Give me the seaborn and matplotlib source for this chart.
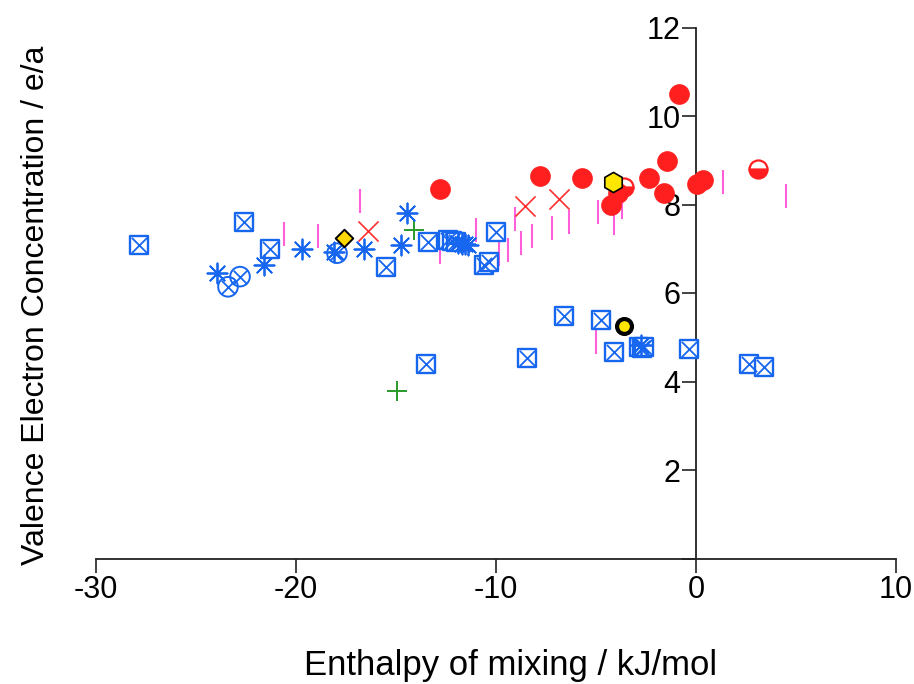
import matplotlib
matplotlib.use("Agg")
import matplotlib.pyplot as plt
import seaborn as sns

# --- data: enthalpy of mixing (kJ/mol) vs valence electron concentration (e/a) ---
square_x = [-27.85, -22.6, -21.3, -15.5, -13.4, -12.4, -12.2, -12.0, -10.6, -10.35, -10.0,
            -13.5, -8.47, -6.6, -4.73, -4.1, -2.85, -2.72, -2.6, -0.35, 2.65, 3.4]
square_y = [7.08, 7.61, 6.99, 6.58, 7.16, 7.2, 7.18, 7.15, 6.63, 6.71, 7.37,
            4.40, 4.54, 5.49, 5.40, 4.66, 4.78, 4.75, 4.77, 4.74, 4.40, 4.32]

asterisk_x = [-23.96, -21.6, -19.7, -18.1, -16.6, -14.75, -14.47, -11.9, -11.7, -11.55, -11.4, -2.75]
asterisk_y = [6.45, 6.63, 6.99, 6.93, 6.99, 7.08, 7.80, 7.12, 7.10, 7.10, 7.08, 4.82]

circlex_x = [-23.4, -22.8, -17.95]
circlex_y = [6.14, 6.37, 6.90]

red_circle_x = [-12.8, -7.8, -5.7, -4.27, -3.9, -2.35, -1.47, -1.6, -0.83, 0.03, 0.37]
red_circle_y = [8.35, 8.64, 8.61, 7.99, 8.25, 8.61, 8.99, 8.27, 10.5, 8.46, 8.55]

half_circle_x = [-3.6, 3.08]
half_circle_y = [8.40, 8.80]

red_x_x = [-16.4, -8.55, -6.85]
red_x_y = [7.39, 7.97, 8.12]

plus_x = [-14.1, -14.97]
plus_y = [7.42, 3.79]

tick_x = [-20.6, -18.9, -16.8, -12.8, -11.0, -9.85, -9.4, -9.07, -8.75, -8.2,
          -7.2, -6.35, -5.0, -4.9, -4.1, -3.68, 1.33, 4.5]
tick_y = [7.33, 7.28, 8.09, 6.93, 7.42, 6.88, 6.97, 7.68, 7.14, 7.28,
          7.46, 7.60, 4.90, 7.84, 7.59, 7.95, 8.50, 8.19]

diamond_x, diamond_y = [-17.6], [7.25]
hexagon_x, hexagon_y = [-4.13], [8.50]
ring_x, ring_y = [-3.6], [5.25]

x_ticks = [-30, -20, -10, 0, 10]
y_ticks = [0, 2, 4, 6, 8, 10, 12]
y_tick_labels = ["", "2", "4", "6", "8", "10", "12"]

sns.set_style("ticks")
plt.rcParams["font.family"] = ["Liberation Sans", "DejaVu Sans"]
plt.rcParams["text.color"] = "black"
plt.rcParams["axes.labelcolor"] = "black"

W, H = 914, 684
fig = plt.figure(figsize=(W / 100, H / 100), dpi=100)
ax = fig.add_axes([96 / W, (H - 558.5) / H, 800 / W, 531 / H])

BLUE = "#1766f0"
RED = "#ff1f1f"
PINK = "#ff5fd8"

# magenta vertical ticks
sns.scatterplot(x=tick_x, y=tick_y, marker="|", s=300, color=PINK, linewidth=1.5, ax=ax, zorder=2)

# boxed crosses
sns.scatterplot(x=square_x, y=square_y, marker="s", s=165, facecolors="white",
                edgecolor=BLUE, linewidth=1.7, ax=ax, zorder=3)
sns.scatterplot(x=square_x, y=square_y, marker="x", s=120, color=BLUE, linewidth=1.3, ax=ax, zorder=3)

# circled crosses
sns.scatterplot(x=circlex_x, y=circlex_y, marker="o", s=200, facecolors="none",
                edgecolor=BLUE, linewidth=1.4, ax=ax, zorder=3)
sns.scatterplot(x=circlex_x, y=circlex_y, marker="x", s=95, color=BLUE, linewidth=1.3, ax=ax, zorder=3)

# eight-armed asterisks
sns.scatterplot(x=asterisk_x, y=asterisk_y, marker=(8, 2, 0), s=210, color=BLUE,
                linewidth=1.3, ax=ax, zorder=4)

# red crosses and green pluses
sns.scatterplot(x=red_x_x, y=red_x_y, marker="x", s=210, color="#ff3030", linewidth=1.2, ax=ax, zorder=3)
sns.scatterplot(x=plus_x, y=plus_y, marker="+", s=210, color="#2a9a2a", linewidth=1.4, ax=ax, zorder=3)

# half-filled red circles
ax.plot(half_circle_x, half_circle_y, ls="none", marker="o", ms=13, fillstyle="bottom",
        markerfacecolor=RED, markerfacecoloralt="white", markeredgecolor=RED, mew=1.6, zorder=4)

# filled red circles
sns.scatterplot(x=red_circle_x, y=red_circle_y, marker="o", s=205, color=RED,
                edgecolor=RED, linewidth=0.5, ax=ax, zorder=5)

# yellow markers with black outline
sns.scatterplot(x=diamond_x, y=diamond_y, marker="D", s=80, color="#ffd800",
                edgecolor="black", linewidth=1.4, ax=ax, zorder=6)
sns.scatterplot(x=hexagon_x, y=hexagon_y, marker="h", s=210, color="#ffe600",
                edgecolor="black", linewidth=1.2, ax=ax, zorder=6)
sns.scatterplot(x=ring_x, y=ring_y, marker="o", s=115, color="#ffe600",
                edgecolor="black", linewidth=3.0, ax=ax, zorder=6)

ax.set_xlim(-30, 10)
ax.set_ylim(0, 12)
ax.set_xticks(x_ticks)
ax.set_xticklabels([str(v) for v in x_ticks])
ax.set_yticks(y_ticks)
ax.set_yticklabels(y_tick_labels)

for side in ("top", "right"):
    ax.spines[side].set_visible(False)
ax.spines["left"].set_position(("data", 0))
ax.spines["bottom"].set_position(("data", 0))
for side in ("left", "bottom"):
    ax.spines[side].set_color("#222222")
    ax.spines[side].set_linewidth(1.3)

ax.tick_params(axis="both", direction="out", length=10, width=1.2, color="#222222",
               labelsize=22, pad=1, labelcolor="black")
ax.tick_params(axis="x", pad=2)
for lbl in ax.get_xticklabels() + ax.get_yticklabels():
    lbl.set_fontstretch("condensed")
ax.set_xlabel("")
ax.set_ylabel("")

fig.text(511 / W, 1 - 665 / H, "Enthalpy of mixing / kJ/mol", ha="center", va="center", fontsize=25)
fig.text(36 / W, 1 - 305 / H, "Valence Electron Concentration / e/a", ha="center", va="center",
         rotation=90, fontsize=23)

fig.savefig("out.png", dpi=100)
